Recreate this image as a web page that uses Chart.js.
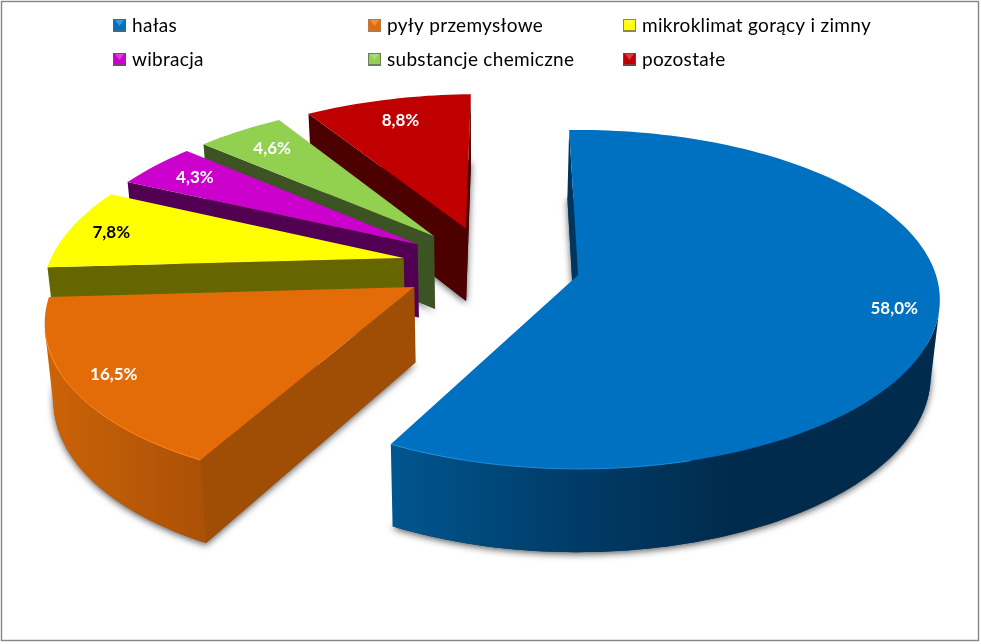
<!DOCTYPE html>
<html lang="pl">
<head>
<meta charset="utf-8">
<title>Czynniki szkodliwe</title>
<style>
    html, body { margin: 0; padding: 0; background: #fff; }
    canvas { display: block; }
</style>
<script src="https://cdn.jsdelivr.net/npm/chart.js@4/dist/chart.umd.min.js"></script>
</head>
<body>
<canvas id="pie3d" width="981" height="644"></canvas>
<script>
// ==========================================
// DATA
// ==========================================
const categories = ['hałas', 'pyły przemysłowe', 'mikroklimat gorący i zimny', 'wibracja', 'substancje chemiczne', 'pozostałe'];
const shares = [58.0, 16.5, 7.8, 4.3, 4.6, 8.8];

// ==========================================
// STYLE
// ==========================================
const topColors = ['#0070c0', '#e36c09', '#ffff00', '#cc00cc', '#92d050', '#c00000'];
const wallColors = ['#00365e', '#a04d06', '#666600', '#520052', '#3c5423', '#4c0000'];
const labelColors = ['#fff', '#fff', '#000', '#fff', '#fff', '#fff'];
const labelReach = [0.88, 0.885, 0.875, 0.84, 0.82, 0.82];   // how far along the radius each label sits
const legendColumns = [113, 368, 623];
const legendRows = [19, 53];
const explode = [74, 68, 70, 70, 70, 70];

// Perspective of the pie plane, fitted by eye against the picture
const view = { ox: 572, oy: 282, a: 360, b: 168, k: 0.145, cu: -0.236, cv: -0.10, depth: 75, vx: 480, shrink: 0.98 };

function project(u, v) {
    const w = 1 - view.k * v;
    return { x: view.ox + view.a * u / w, y: view.oy + view.b * v / w, w: w };
}

function drop(p) {
    return { x: view.vx + (p.x - view.vx) * view.shrink, y: p.y + view.depth / Math.pow(p.w, 0.7) };
}

// Screen outline of one slice, taken from the geometry Chart.js computed for the arc
function sliceShape(arc) {
    const R = arc.outerRadius;
    const mid = (arc.startAngle + arc.endAngle) / 2;
    const off = arc.options.offset / R;
    const u0 = view.cu + off * Math.cos(mid);
    const v0 = view.cv + off * Math.sin(mid);
    const rim = [];
    const steps = Math.max(6, Math.ceil((arc.endAngle - arc.startAngle) * 40));
    for (let i = 0; i <= steps; i++) {
        const t = arc.startAngle + (arc.endAngle - arc.startAngle) * i / steps;
        rim.push(project(u0 + Math.cos(t), v0 + Math.sin(t)));
    }
    return { apex: project(u0, v0), rim: rim, u0: u0, v0: v0, mid: mid };
}

function tracePolygon(ctx, pts) {
    ctx.beginPath();
    pts.forEach((p, i) => i ? ctx.lineTo(p.x, p.y) : ctx.moveTo(p.x, p.y));
    ctx.closePath();
}

// A wall is visible when dropping the edge moves it away from the inside of the slice
function faces(a, b, inside) {
    const side = p => (b.x - a.x) * (p.y - a.y) - (b.y - a.y) * (p.x - a.x);
    const d = drop(a);
    return side(inside) * side(d) < 0;
}

function wallFill(ctx, index) {
    if (index === 0) {
        const g = ctx.createLinearGradient(391, 0, 730, 0);
        g.addColorStop(0, '#00568f');
        g.addColorStop(0.5, '#003d6b');
        g.addColorStop(1, '#002b4c');
        return g;
    }
    if (index === 1) {
        const g = ctx.createLinearGradient(45, 0, 205, 0);
        g.addColorStop(0, '#cc6308');
        g.addColorStop(1, '#ab5006');
        return g;
    }
    return wallColors[index];
}

function drawSlice(ctx, shape, index) {
    const rim = shape.rim;
    const apex = shape.apex;
    const inner = rim[Math.floor(rim.length / 2)];

    // flat side walls
    [rim[0], rim[rim.length - 1]].forEach(corner => {
        if (faces(apex, corner, inner)) {
            ctx.fillStyle = wallColors[index];
            tracePolygon(ctx, [apex, corner, drop(corner), drop(apex)]);
            ctx.fill();
        }
    });

    // curved wall, only the run of the rim that looks at the viewer
    const run = rim.filter((p, i) => i < rim.length - 1 && faces(p, rim[i + 1], apex));
    if (run.length) {
        const last = rim[rim.indexOf(run[run.length - 1]) + 1];
        run.push(last);
        ctx.fillStyle = wallFill(ctx, index);
        tracePolygon(ctx, run.concat(run.map(drop).reverse()));
        ctx.fill();
    }

    // top face
    ctx.fillStyle = topColors[index];
    tracePolygon(ctx, [apex].concat(rim));
    ctx.fill();

    // thin light edge along the front of the rim
    if (run.length && index < 2) {
        ctx.strokeStyle = index === 0 ? '#1b8ede' : '#ff8a1c';
        ctx.lineWidth = 1;
        ctx.beginPath();
        const front = run.filter(p => index === 1 || p.x < 700);
        front.forEach((p, i) => i ? ctx.lineTo(p.x, p.y) : ctx.moveTo(p.x, p.y));
        ctx.stroke();
    }
}

function drawLegend(ctx) {
    ctx.save();
    ctx.font = '19px Lato';
    ctx.letterSpacing = '0.3px';
    ctx.textAlign = 'left';
    ctx.textBaseline = 'alphabetic';
    categories.forEach((name, i) => {
        const x = legendColumns[i % 3];
        const y = legendRows[Math.floor(i / 3)];
        ctx.fillStyle = wallColors[i];
        ctx.globalAlpha = 0.75;
        ctx.fillRect(x, y, 13, 13);
        ctx.globalAlpha = 1;
        ctx.fillStyle = topColors[i];
        ctx.fillRect(x + 1, y + 1, 11, 10);
        ctx.fillStyle = 'rgba(255,255,255,0.25)';
        ctx.beginPath();
        ctx.moveTo(x + 2, y + 1);
        ctx.lineTo(x + 11, y + 1);
        ctx.lineTo(x + 6.5, y + 7);
        ctx.closePath();
        ctx.fill();
        ctx.fillStyle = '#000';
        ctx.fillText(name, x + 19, y + 13);
    });
    ctx.restore();
}

// The doughnut controller still lays out the arcs; only their painting is replaced
const pie3dPlugin = {
    id: 'pie3d',
    beforeDatasetsDraw(chart) {
        const ctx = chart.ctx;
        const arcs = chart.getDatasetMeta(0).data;
        const shapes = arcs.map(sliceShape);

        ctx.save();
        ctx.fillStyle = '#fff';
        ctx.fillRect(0, 0, chart.width, chart.height);
        ctx.strokeStyle = '#868686';
        ctx.lineWidth = 1.4;
        ctx.strokeRect(1.5, 1.5, 977, 639);

        // soft shadow of the underside of every slice
        ctx.save();
        ctx.shadowColor = 'rgba(0,0,0,0.65)';
        ctx.shadowBlur = 7;
        ctx.shadowOffsetY = 2;
        shapes.forEach((s, i) => {
            ctx.fillStyle = wallColors[i];
            tracePolygon(ctx, [drop(s.apex)].concat(s.rim.map(drop)));
            ctx.fill();
        });
        ctx.restore();

        // back to front
        [5, 4, 3, 2, 1, 0].forEach(i => drawSlice(ctx, shapes[i], i));

        // value labels
        ctx.font = 'bold 17px Lato';
        ctx.textAlign = 'center';
        ctx.textBaseline = 'middle';
        shapes.forEach((s, i) => {
            const p = project(s.u0 + labelReach[i] * Math.cos(s.mid), s.v0 + labelReach[i] * Math.sin(s.mid));
            ctx.fillStyle = labelColors[i];
            ctx.fillText(shares[i].toFixed(1).replace('.', ',') + '%', p.x, p.y);
        });

        drawLegend(ctx);
        ctx.restore();
        return false;
    }
};

new Chart(document.getElementById('pie3d'), {
    type: 'pie',
    data: {
        labels: categories,
        datasets: [{ data: shares, backgroundColor: topColors, borderWidth: 0, offset: explode }]
    },
    options: {
        responsive: false,
        animation: false,
        rotation: -1.5,
        plugins: { legend: { display: false }, tooltip: { enabled: false } }
    },
    plugins: [pie3dPlugin]
});
</script>
</body>
</html>
